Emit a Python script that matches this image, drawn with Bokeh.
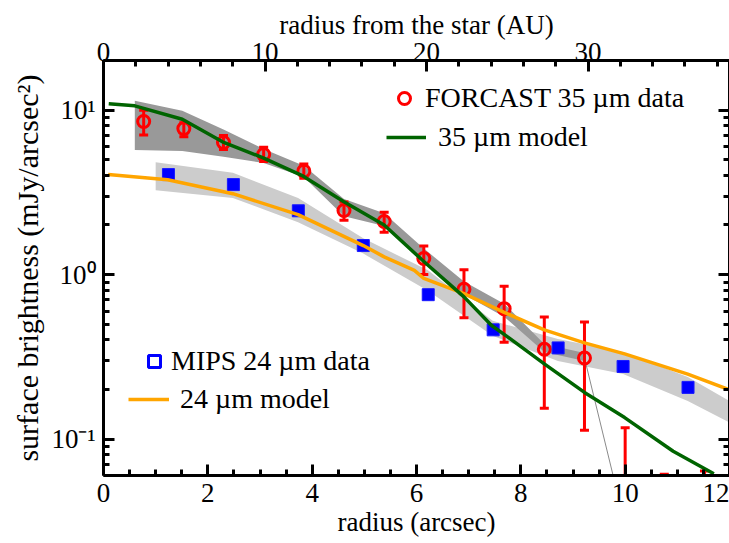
import numpy as np
from bokeh.plotting import figure
from bokeh.models import (Range1d, LinearAxis, LogAxis, FixedTicker, Legend,
                          LegendItem, ColumnDataSource)
from bokeh.embed import file_html
from bokeh.resources import INLINE

# ---------------- data ----------------
# FORCAST 35 um data (radius arcsec, surface brightness mJy/arcsec^2, error range)
f35_r  = [0.77, 1.54, 2.30, 3.07, 3.84, 4.61, 5.38, 6.14, 6.91, 7.68, 8.45, 9.22, 10.0, 10.75, 11.52]
f35_sb = [8.51, 7.71, 6.35, 5.37, 4.25, 2.45, 2.10, 1.25, 0.813, 0.620, 0.351, 0.311, 0.03, 0.02, 0.02]
f35_hi = [9.98, 8.38, 7.01, 5.93, 4.69, 2.76, 2.39, 1.49, 1.07, 0.848, 0.551, 0.514, 0.117, 0.061, 0.064]
f35_lo = [7.05, 6.88, 5.75, 4.86, 3.85, 2.14, 1.81, 1.00, 0.546, 0.388, 0.154, 0.113, 0.01, 0.01, 0.01]

# MIPS 24 um data
m24_r  = [1.245, 2.49, 3.735, 4.98, 6.225, 7.47, 8.715, 9.96, 11.205]
m24_sb = [4.05, 3.52, 2.44, 1.50, 0.754, 0.461, 0.358, 0.276, 0.206]

# 35 um model
mod35_r  = [0.1, 0.6, 1.51, 2.28, 3.06, 3.83, 4.6, 5.38, 6.14, 6.91, 7.44, 7.68, 8.45, 9.22, 9.99, 10.92, 11.7]
mod35_sb = [10.9, 10.6, 8.79, 6.41, 5.12, 3.96, 2.78, 2.0, 1.20, 0.731, 0.49, 0.433, 0.286, 0.192, 0.135, 0.0842, 0.0615]

# 24 um model
mod24_r  = [0.09, 1.23, 2.48, 3.73, 4.98, 5.38, 5.96, 6.14, 6.91, 7.67, 8.45, 9.22, 9.99, 11.2, 12.0]
mod24_sb = [4.05, 3.77, 3.10, 2.31, 1.50, 1.28, 1.06, 0.946, 0.765, 0.591, 0.461, 0.384, 0.329, 0.248, 0.199]

# 35 um range band (dark grey)
band35_r  = [0.6, 1.51, 2.30, 3.07, 3.84, 4.61, 5.38, 6.14, 6.91, 7.68, 8.45, 9.22]
band35_hi = [11.4, 9.9, 7.6, 5.8, 4.58, 2.88, 2.36, 1.44, 0.906, 0.665, 0.378, 0.333]
band35_lo = [5.71, 5.63, 5.2, 4.77, 3.92, 2.26, 1.97, 1.18, 0.755, 0.554, 0.338, 0.298]

# 24 um range band (light grey)
band24_r  = [1.0, 2.48, 3.73, 4.98, 6.22, 7.46, 8.71, 9.96, 11.2, 12.0]
band24_hi = [4.82, 4.15, 2.92, 1.66, 1.06, 0.523, 0.406, 0.338, 0.238, 0.170]
band24_lo = [3.25, 2.92, 2.08, 1.34, 0.798, 0.424, 0.298, 0.248, 0.170, 0.126]

x_ticks = [0, 2, 4, 6, 8, 10, 12]
au_ticks = [0, 10, 20, 30]
y_ticks = [0.1, 1, 10]
y_labels = {0.1: "10\u207b\u00b9", 1: "10\u2070", 10: "10\u00b9"}
AU_PER_ARCSEC = 3.23

FONT = "Liberation Serif"

# ---------------- figure ----------------
p = figure(width=721, height=537, x_range=Range1d(0, 12), y_range=Range1d(0.06, 20),
           y_axis_type="log", output_backend="svg", toolbar_location=None,
           min_border_left=94, min_border_right=0, min_border_top=54, min_border_bottom=68)
p.margin = (6, 0, 0, 8)
p.grid.visible = False
p.outline_line_color = None
p.background_fill_color = "white"
p.border_fill_color = "white"

minor_x = [i * 0.5 for i in range(25) if i % 4 != 0]
minor_y = []
for dec in [0.01, 0.1, 1, 10]:
    for k in range(2, 10):
        v = k * dec
        if 0.06 <= v <= 20:
            minor_y.append(v)
minor_au = [v for v in range(2, 40, 2) if v % 10 != 0]

p.extra_x_ranges = {"au": Range1d(0, 12 * AU_PER_ARCSEC)}


def style_axis(ax):
    ax.axis_line_width = 3
    ax.axis_line_color = "black"
    ax.major_tick_in = 11
    ax.major_tick_out = 0
    ax.minor_tick_in = 6
    ax.minor_tick_out = 0
    ax.major_tick_line_width = 3
    ax.minor_tick_line_width = 3
    ax.major_label_text_font = FONT
    ax.major_label_text_font_size = "27px"
    ax.major_label_text_color = "black"
    ax.axis_label_text_font = FONT
    ax.axis_label_text_font_size = "27px"
    ax.axis_label_text_font_style = "normal"
    ax.axis_label_text_color = "black"


xa = p.xaxis[0]
xa.ticker = FixedTicker(ticks=x_ticks, minor_ticks=minor_x)
xa.axis_label = "radius (arcsec)"
style_axis(xa)
xa.major_label_standoff = 8
xa.axis_label_standoff = 2

ya = p.yaxis[0]
ya.ticker = FixedTicker(ticks=y_ticks, minor_ticks=minor_y)
ya.major_label_overrides = y_labels
ya.axis_label = "surface brightness (mJy/arcsec\u00b2)"
style_axis(ya)
ya.axis_label_text_font_size = "30px"
ya.major_label_standoff = 8
ya.axis_label_standoff = 4

top = LinearAxis(x_range_name="au", ticker=FixedTicker(ticks=au_ticks, minor_ticks=minor_au),
                 axis_label="radius from the star (AU)")
style_axis(top)
top.major_label_standoff = 0
top.axis_label_standoff = 0
p.add_layout(top, "above")

right = LogAxis(ticker=FixedTicker(ticks=y_ticks, minor_ticks=minor_y),
                major_label_overrides={0.1: "", 1: "", 10: ""})
style_axis(right)
right.major_label_standoff = 0
right.major_label_text_font_size = "1px"
p.add_layout(right, "right")

# ---------------- bands ----------------
p.varea(x=band24_r, y1=band24_lo, y2=band24_hi, fill_color="#cccccc")
p.varea(x=band35_r, y1=band35_lo, y2=band35_hi, fill_color="#999999")
p.line(x=f35_r[11:13], y=f35_sb[11:13], line_color="#8a8a8a", line_width=1)

# ---------------- data ----------------
src35 = ColumnDataSource(dict(r=f35_r, sb=f35_sb, hi=f35_hi, lo=f35_lo))
p.segment(x0="r", y0="lo", x1="r", y1="hi", source=src35, line_color="#ff0000", line_width=3)
p.scatter(x="r", y="hi", source=src35, marker="dash", size=9, line_color="#ff0000", line_width=3)
p.scatter(x="r", y="lo", source=src35, marker="dash", size=9, line_color="#ff0000", line_width=3)
p.scatter(x="r", y="sb", source=src35, marker="circle", size=12, fill_color=None,
          line_color="#ff0000", line_width=3)

p.scatter(x=m24_r, y=m24_sb, marker="square", size=12, fill_color="#0000ff",
          line_color="#1a1aff", line_width=1)

# ---------------- models ----------------
r_or = p.line(x=mod24_r, y=mod24_sb, line_color="#ffa500", line_width=3.5)
r_gr = p.line(x=mod35_r, y=mod35_sb, line_color="#006400", line_width=3.5)

# legend proxies (single point outside the visible range, only used for the legend glyph)
proxy = ColumnDataSource(dict(x=[-5], y=[1]))
r_c = p.scatter(x="x", y="y", source=proxy, marker="circle", size=11, fill_color=None,
                line_color="#ff0000", line_width=3)
r_s = p.scatter(x="x", y="y", source=proxy, marker="square", size=11, fill_color=None,
                line_color="#0000ff", line_width=3)


def add_leg(label, rend, loc, gw, gh, standoff):
    lg = Legend(items=[LegendItem(label=label, renderers=[rend], index=0)], location=loc,
                glyph_width=gw, glyph_height=gh, label_standoff=standoff,
                label_text_font=FONT, label_text_font_size="28px", label_text_color="black",
                padding=0, margin=0, border_line_alpha=0, background_fill_alpha=0,
                label_height=20)
    p.add_layout(lg, "center")


add_leg("FORCAST 35 \u00b5m data", r_c, (286, 361), 30, 30, 6)
add_leg("35 \u00b5m model", r_gr, (283, 322), 40, 20, 12)
add_leg("MIPS 24 \u00b5m data", r_s, (36, 98), 30, 30, 2)
add_leg("24 \u00b5m model", r_or, (25, 60), 41, 20, 11)

html = file_html(p, INLINE)
html = html.replace("<body>", '<body style="background-color:#ecebe4;">', 1)
open("out.html", "w").write(html)
